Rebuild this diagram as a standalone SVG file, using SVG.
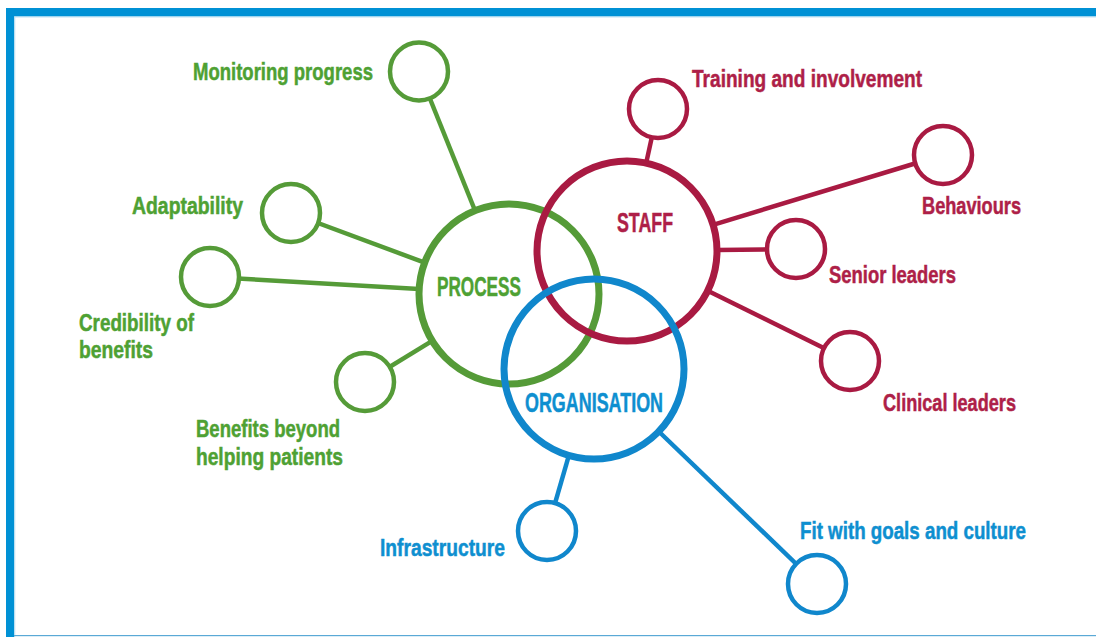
<svg xmlns="http://www.w3.org/2000/svg" width="1096" height="637" viewBox="0 0 1096 637">
  <style>
    text { font-family: "Liberation Sans", Arial, sans-serif; font-weight: bold; stroke-width: 0.5; }
    .lbl { font-size: 24px; }
    .hub { font-size: 27px; }
    .g { fill: #4ea133; stroke: #4ea133; }
    .r { fill: #ae1f48; stroke: #ae1f48; }
    .b { fill: #0e8fd0; stroke: #0e8fd0; }
    .ring { fill: none; stroke-width: 7; }
    .dot { fill: #ffffff; stroke-width: 4.5; }
    .link { stroke-width: 4.5; stroke-linecap: butt; }
    .gs { stroke: #559b38; }
    .rs { stroke: #a91a42; }
    .bs { stroke: #1087cc; }
  </style>

  <!-- page background and frame -->
  <rect x="0" y="0" width="1096" height="637" fill="#ffffff"/>
  <rect x="6" y="8" width="1090" height="8.5" fill="#0091d5"/>
  <rect x="6" y="8" width="8.3" height="629" fill="#0091d5"/>
  <rect x="14.3" y="16.5" width="1081.7" height="1" fill="#bfe2f3"/>
  <rect x="14.3" y="16.5" width="1" height="620" fill="#bfe2f3"/>
  <rect x="14" y="635" width="1082" height="1.2" fill="#5aa9d6"/>

  <!-- connectors -->
  <g id="connectors">
    <line class="link gs" x1="419" y1="71.5" x2="475" y2="210.5"/>
    <line class="link gs" x1="291" y1="213" x2="424.6" y2="262.6"/>
    <line class="link gs" x1="210" y1="277" x2="419.1" y2="288.9"/>
    <line class="link gs" x1="365" y1="382" x2="432.2" y2="340.9"/>
    <line class="link rs" x1="658" y1="109" x2="646.2" y2="163"/>
    <line class="link rs" x1="943" y1="155" x2="713" y2="224.8"/>
    <line class="link rs" x1="796" y1="249" x2="717" y2="250"/>
    <line class="link rs" x1="850" y1="361" x2="707.7" y2="290.8"/>
    <line class="link bs" x1="547" y1="531" x2="568.9" y2="455.4"/>
    <line class="link bs" x1="817" y1="584" x2="658.8" y2="431.5"/>
  </g>

  <!-- hub rings -->
  <g id="process">
    <circle class="ring gs" cx="509" cy="294" r="90"/>
    <text class="hub g" x="437" y="296" textLength="84" lengthAdjust="spacingAndGlyphs">PROCESS</text>
  </g>
  <g id="staff">
    <circle class="ring rs" cx="627" cy="251" r="90"/>
    <text class="hub r" x="617" y="232" textLength="56" lengthAdjust="spacingAndGlyphs">STAFF</text>
  </g>
  <g id="organisation">
    <circle class="ring bs" cx="594" cy="369" r="90"/>
    <text class="hub b" x="525" y="412" textLength="138" lengthAdjust="spacingAndGlyphs">ORGANISATION</text>
  </g>

  <!-- process factors -->
  <g id="monitoring-progress">
    <circle class="dot gs" cx="419" cy="71.5" r="29"/>
    <text class="lbl g" x="193" y="80" textLength="180" lengthAdjust="spacingAndGlyphs">Monitoring progress</text>
  </g>
  <g id="adaptability">
    <circle class="dot gs" cx="291" cy="213" r="29"/>
    <text class="lbl g" x="132" y="214" textLength="111" lengthAdjust="spacingAndGlyphs">Adaptability</text>
  </g>
  <g id="credibility">
    <circle class="dot gs" cx="210" cy="277" r="29"/>
    <text class="lbl g" x="79" y="331" textLength="115" lengthAdjust="spacingAndGlyphs">Credibility of</text>
    <text class="lbl g" x="79" y="358" textLength="74" lengthAdjust="spacingAndGlyphs">benefits</text>
  </g>
  <g id="benefits-beyond">
    <circle class="dot gs" cx="365" cy="382" r="29"/>
    <text class="lbl g" x="196" y="437" textLength="144" lengthAdjust="spacingAndGlyphs">Benefits beyond</text>
    <text class="lbl g" x="196" y="465" textLength="147" lengthAdjust="spacingAndGlyphs">helping patients</text>
  </g>

  <!-- staff factors -->
  <g id="training">
    <circle class="dot rs" cx="658" cy="109" r="29"/>
    <text class="lbl r" x="692" y="87" textLength="230" lengthAdjust="spacingAndGlyphs">Training and involvement</text>
  </g>
  <g id="behaviours">
    <circle class="dot rs" cx="943" cy="155" r="29"/>
    <text class="lbl r" x="922" y="214" textLength="99" lengthAdjust="spacingAndGlyphs">Behaviours</text>
  </g>
  <g id="senior-leaders">
    <circle class="dot rs" cx="796" cy="249" r="29"/>
    <text class="lbl r" x="829" y="283" textLength="127" lengthAdjust="spacingAndGlyphs">Senior leaders</text>
  </g>
  <g id="clinical-leaders">
    <circle class="dot rs" cx="850" cy="361" r="29"/>
    <text class="lbl r" x="883" y="411" textLength="133" lengthAdjust="spacingAndGlyphs">Clinical leaders</text>
  </g>

  <!-- organisation factors -->
  <g id="infrastructure">
    <circle class="dot bs" cx="547" cy="531" r="29"/>
    <text class="lbl b" x="380" y="556" textLength="125" lengthAdjust="spacingAndGlyphs">Infrastructure</text>
  </g>
  <g id="fit-goals-culture">
    <circle class="dot bs" cx="817" cy="584" r="29"/>
    <text class="lbl b" x="800" y="539" textLength="226" lengthAdjust="spacingAndGlyphs">Fit with goals and culture</text>
  </g>
</svg>
